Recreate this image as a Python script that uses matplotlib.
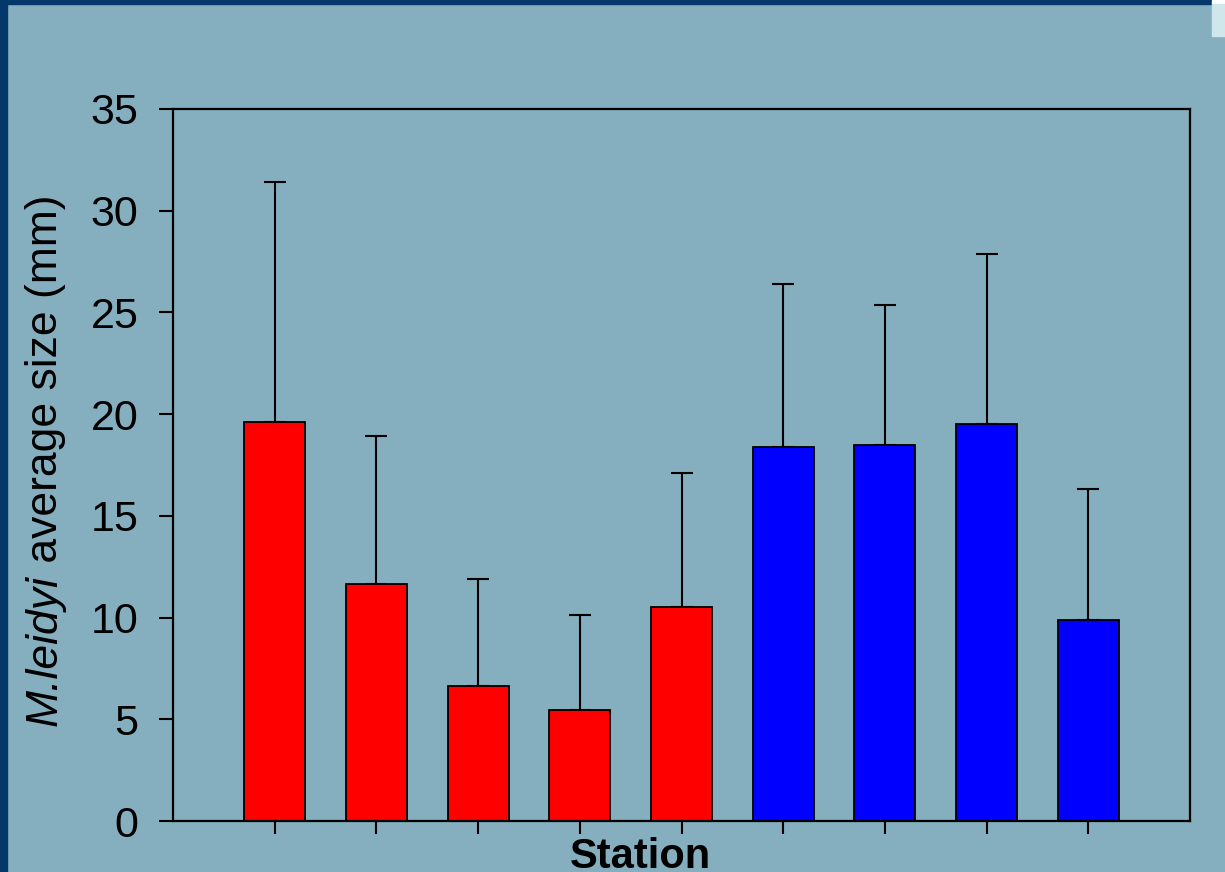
import matplotlib.pyplot as plt
from matplotlib.patches import Rectangle

plt.rcParams['font.family'] = ['Liberation Sans', 'DejaVu Sans']

# medias y desviaciones por estacion
estaciones = [1, 2, 3, 4, 5, 6, 7, 8, 9]
talla_media = [19.6, 11.65, 6.65, 5.45, 10.5, 18.4, 18.5, 19.5, 9.9]
desviacion = [11.8, 7.3, 5.25, 4.7, 6.6, 8.0, 6.85, 8.35, 6.4]
colores = ['#ff0000'] * 5 + ['#0000ff'] * 4

fondo = '#85aebf'
marco = '#04386b'
W, H = 1225, 872

fig = plt.figure(figsize=(W / 100, H / 100), dpi=100, facecolor=fondo)
ax = fig.add_axes([173 / W, 1 - 821 / H, 1017 / W, 712 / H])
ax.set_facecolor(fondo)

ax.bar(estaciones, talla_media, width=0.6, color=colores,
       edgecolor='black', linewidth=1.3, zorder=2)
ax.errorbar(estaciones, talla_media, yerr=[[0] * 9, desviacion],
            fmt='none', ecolor='black', elinewidth=1.5, capsize=8,
            capthick=1.5, zorder=1)

ax.set_xlim(0, 10)
ax.set_ylim(0, 35)
ax.set_yticks(range(0, 36, 5))
ax.set_xticks(estaciones)
ax.set_xticklabels([])
ax.tick_params(axis='y', direction='out', length=10, width=1.5,
               labelsize=31, pad=15)
ax.tick_params(axis='x', direction='out', length=9, width=1.5)
for s in ax.spines.values():
    s.set_linewidth(1.6)

# etiqueta del eje y: nombre de especie en cursiva + resto normal
fig.canvas.draw()
r = fig.canvas.get_renderer()
t1 = fig.text(45 / W, 0, 'M.leidyi', rotation=90, fontsize=32, style='italic',
              ha='center', va='bottom')
t2 = fig.text(45 / W, 0, ' average size (mm)', rotation=90, fontsize=32,
              ha='center', va='bottom')
h1 = t1.get_window_extent(r).height
h2 = t2.get_window_extent(r).height
y0 = (H - 460) - (h1 + h2) / 2
t1.set_y(y0 / H)
t2.set_y((y0 + h1) / H)

fig.text(640 / W, 1 - 868 / H, 'Station', fontsize=30, fontweight='bold',
         ha='center', va='baseline')

# marco de la diapositiva
fig.patches.append(Rectangle((0, 0), 7 / W, 1, transform=fig.transFigure,
                             color=marco, zorder=0))
fig.patches.append(Rectangle((0, 1 - 4 / H), 1212 / W, 4 / H,
                             transform=fig.transFigure, color=marco, zorder=0))
fig.patches.append(Rectangle((1212 / W, 1 - 4 / H), 13 / W, 4 / H,
                             transform=fig.transFigure, color='white', zorder=0))
fig.patches.append(Rectangle((1212 / W, 1 - 36 / H), 13 / W, 32 / H,
                             transform=fig.transFigure, color='#cfe6ea', zorder=0))

fig.savefig('out.png', dpi=100, facecolor=fondo)
